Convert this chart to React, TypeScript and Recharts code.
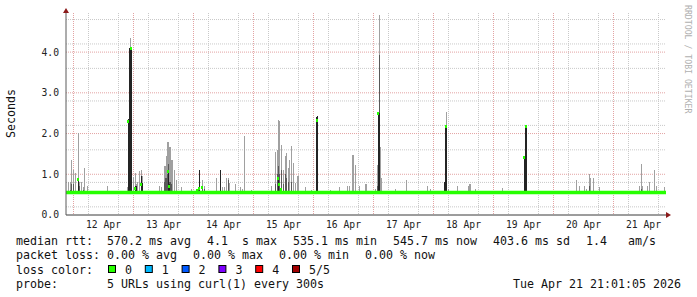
import React from "react";
import { ComposedChart, Bar, Line, Scatter, XAxis, YAxis, CartesianGrid } from "recharts";

// hours since 12 Apr 00:00, one column = 24 min
const smokeHours = [
  -2.0, -1.2, -0.8, 0.0, 0.8, 2.0, 2.4, 3.2, 4.0, 4.4, 5.6, 13.6, 21.6, 22.0, 22.4, 22.8, 23.2,
  24.0, 24.8, 25.2, 25.6, 26.4, 27.2, 27.6, 34.4, 35.2, 36.4, 36.8, 37.2, 37.6, 38.0, 38.4, 38.8,
  39.2, 39.6, 40.4, 41.2, 43.2, 47.2, 49.6, 50.0, 50.4, 51.6, 52.4, 57.2, 58.8, 59.6, 60.4, 61.2,
  62.0, 62.4, 64.8, 66.8, 67.6, 68.4, 71.2, 79.2, 80.8, 81.6, 82.0, 82.4, 83.2, 84.0, 84.8, 85.2,
  86.0, 86.4, 87.2, 88.0, 88.8, 89.6, 90.0, 92.8, 95.2, 97.2, 97.6, 102.8, 106.4, 109.6, 110.4,
  111.6, 112.0, 112.8, 114.4, 116.8, 117.2, 120.8, 121.6, 122.0, 122.4, 122.8, 123.2, 128.8,
  133.2, 141.6, 142.8, 148.4, 148.8, 149.2, 150.0, 153.6, 158.0, 158.4, 158.8, 160.8, 171.6,
  180.4, 180.8, 181.2, 201.2, 202.4, 204.4, 205.2, 206.4, 206.8, 208.0, 210.4, 226.4, 227.2,
  227.6, 229.6, 230.4, 232.4, 233.2, 236.4,
];
// outer smoke (slowest ping), seconds
const smokeHigh = [
  0.82, 0.82, 1.35, 1.1, 1.03, 2.01, 0.82, 0.82, 0.68, 1.15, 0.7, 0.7, 0.68, 2.35, 4.1, 4.35, 4.1,
  0.94, 1.03, 0.75, 0.82, 1.08, 1.1, 0.95, 0.7, 0.68, 1.2, 1.2, 1.45, 1.8, 1.8, 1.68, 1.68,
  1.35, 1.35, 1.1, 0.86, 0.68, 0.63, 0.65, 0.65, 1.1, 0.85, 0.7, 0.9, 1.1, 0.68, 0.68, 0.9,
  0.9, 0.78, 0.75, 0.68, 0.65, 1.94, 0.62, 0.72, 1.55, 1.6, 2.33, 2.3, 1.72, 1.1, 1.45, 1.52,
  1.15, 1.35, 1.69, 1.28, 0.78, 0.95, 0.95, 0.68, 0.62, 2.4, 2.43, 0.62, 0.68, 0.72, 0.72,
  1.47, 1.47, 1.23, 0.72, 0.75, 0.75, 0.63, 1.23, 2.51, 4.91, 1.68, 0.9, 0.65,
  0.85, 0.72, 0.65, 0.82, 2.17, 2.54, 0.65, 0.72, 0.72, 0.75, 0.75, 0.65, 0.66,
  1.4, 2.17, 2.17, 0.86, 0.72, 0.72, 0.65, 1.01, 0.9, 0.9, 0.68, 0.72, 1.25,
  0.72, 0.72, 0.82, 1.1, 0.72, 0.68,
];
// middle smoke band top (0 = none)
const smokeMid = [
  0, 0.62, 0.75, 0.75, 0, 0, 0.7, 0, 0.62, 0, 0, 0, 0, 0, 0, 0, 0,
  0, 0, 0, 0, 0, 0, 0, 0, 0, 0.8, 0.9, 0.9, 1.0, 1.25, 0.8, 0.8,
  0.75, 0, 0, 0, 0, 0, 0.65, 0.62, 0, 0.65, 0.65, 0, 0, 0, 0, 0,
  0.85, 0, 0, 0, 0, 0, 0, 0, 0.75, 1.0, 1.2, 1.0, 1.1, 0.75, 1.0, 0.9,
  0.8, 0, 0.8, 0, 0, 0, 0, 0, 0, 0, 0, 0, 0, 0, 0,
  0, 0, 0, 0, 0, 0, 0, 0.7, 0, 3.93, 0, 0, 0,
  0, 0, 0, 0, 0, 0, 0, 0, 0, 0, 0, 0, 0,
  0, 0, 0, 0, 0, 0, 0, 0.7, 0, 0, 0, 0, 0.64,
  0, 0, 0, 0, 0, 0,
];
// dark core of the smoke (0 = none)
const smokeCore = [
  0, 0, 0, 0, 0, 0.9, 0, 0, 0, 0, 0, 0, 0, 2.35, 4.1, 4.1, 4.08,
  0, 0.7, 0.7, 0, 0, 0.95, 0.78, 0, 0, 0, 0, 0, 0, 1.1, 0.75, 0,
  0, 0, 0, 0, 0, 0, 0, 0, 1.1, 0, 0, 0, 1.1, 0, 0, 0,
  0, 0, 0, 0, 0, 0, 0, 0, 0, 0, 0.9, 0, 0, 0, 0, 0,
  0, 0, 0, 0, 0, 0, 0, 0, 0, 2.4, 2.43, 0, 0, 0, 0,
  0, 0, 0, 0, 0, 0, 0, 0, 2.51, 2.51, 0, 0, 0,
  0, 0, 0, 0.82, 2.17, 2.17, 0, 0, 0, 0, 0, 0, 0,
  1.4, 2.17, 2.17, 0, 0, 0, 0, 0, 0, 0, 0, 0, 0,
  0, 0, 0, 0, 0, 0,
];
const SMOKE_LOW = 0.54;

const medianHours = [-3, 18, 45, 70, 93, 118, 140, 165, 190, 215, 237];
const medianValues = [0.552, 0.552, 0.551, 0.552, 0.551, 0.552, 0.552, 0.551, 0.552, 0.552, 0.551];

// median readings that left the baseline
const spikeHours = [2.0, 22.0, 23.2, 24.8, 27.2, 38.0, 38.4, 49.6, 50.4, 51.6, 82.0, 82.4, 83.2, 97.6, 122.0, 149.2, 180.4, 181.2];
const spikeValues = [0.86, 2.29, 4.08, 0.64, 0.76, 1.06, 0.69, 0.6, 0.66, 0.68, 0.9, 0.75, 0.62, 2.33, 2.5, 2.17, 1.4, 2.17];

const dayTicks = [12, 36, 60, 84, 108, 132, 156, 180, 204, 228];
const dayLabels = ["12 Apr", "13 Apr", "14 Apr", "15 Apr", "16 Apr", "17 Apr", "18 Apr", "19 Apr", "20 Apr", "21 Apr"];
const secondTicks = [0, 1, 2, 3, 4];

const rttItems = ["median rtt:  570.2 ms avg", "4.1  s max", "535.1 ms min", "545.7 ms now", "403.6 ms sd", "1.4   am/s"];
const lossItems = ["packet loss: 0.00 % avg", "0.00 % max", "0.00 % min", "0.00 % now"];
const lossLabels = ["0", "1", "2", "3", "4", "5/5"];
const lossColors = ["#26ff00", "#00b8ff", "#0059ff", "#7e00ff", "#ff0000", "#a10000"];

// grid positions
const majorX: number[] = [];
const minorX: number[] = [];
for (let h = 0; h <= 236; h += 6) (h % 24 === 0 ? majorX : minorX).push(h);
const majorY = [1, 2, 3, 4];
const minorY: number[] = [];
for (let i = 1; i <= 24; i++) if (i % 5 !== 0) minorY.push(i / 5);

const rows = smokeHours
  .map((t, i) => {
    const coreTop = smokeCore[i] > 0 ? smokeCore[i] : SMOKE_LOW;
    const midTop = Math.max(smokeMid[i], coreTop);
    return {
      t,
      base: SMOKE_LOW,
      core: coreTop - SMOKE_LOW,
      mid: midTop - coreTop,
      light: Math.max(smokeHigh[i] - midTop, 0),
    } as any;
  })
  .concat(medianHours.map((t, i) => ({ t, base: 0, core: 0, mid: 0, light: 0, median: medianValues[i] })))
  .sort((a, b) => a.t - b.t);

const spikes = spikeHours.map((t, i) => ({ t, v: spikeValues[i] }));

const MONO = "DejaVu Sans Mono, monospace";
const CH = 7; // legend char advance
const tickStyle = { fontSize: 9.7, fill: "#222", fontFamily: MONO };

// rrdtool draws smoke as whole pixel columns
const SmokeColumn = (p: any) => {
  if (!p.height || p.height <= 0 || p.fill === "none") return null;
  return (
    <rect x={Math.floor(p.x)} y={p.y} width={Math.max(1, Math.round(p.width))} height={p.height}
      fill={p.fill} shapeRendering="crispEdges" />
  );
};

const MedianMark = (props: any) => {
  const { cx, cy } = props;
  if (cx == null || cy == null) return null;
  return <rect x={Math.floor(cx) - 1} y={cy - 1.5} width={2} height={3} fill="#26ff00" shapeRendering="crispEdges" />;
};

// item start positions: rrdtool leaves 16px between legend items
const placeItems = (items: string[], x0: number) => {
  const xs: number[] = [];
  let x = x0;
  items.forEach((s) => {
    xs.push(x);
    x += s.length * CH + 16;
  });
  return xs;
};

export default function App() {
  const txt = { fontFamily: MONO, fontSize: 11.63, fill: "#111", whiteSpace: "pre" } as any;
  const rttX = placeItems(rttItems, 16);
  const lossX = placeItems(lossItems, 16);
  return (
    <div style={{ position: "absolute", left: 0, top: 0, width: 697, height: 297, background: "#fff" }}>
      <svg width={0} height={0} style={{ position: "absolute" }}>
        <defs>
          <marker id="axisArrow" viewBox="0 0 10 12" refX="0" refY="6" markerWidth="5" markerHeight="6"
            markerUnits="userSpaceOnUse" orient="auto-start-reverse">
            <path d="M0,0 L10,6 L0,12 z" fill="#8b1a1a" />
          </marker>
        </defs>
      </svg>
      <ComposedChart
        width={697}
        height={297}
        data={rows}
        margin={{ top: 13, right: 31, left: 16, bottom: 62 }}
        barSize={1}
        barGap={0}
        barCategoryGap={0}
        style={{ position: "absolute", left: 0, top: 0 }}
      >
        <CartesianGrid stroke="#c9c9c9" strokeDasharray="1 1" verticalValues={minorX} horizontalValues={minorY} />
        <CartesianGrid stroke="#e3a3a3" strokeDasharray="1 1" verticalValues={majorX} horizontalValues={majorY} />
        <XAxis
          dataKey="t"
          type="number"
          domain={[-3, 237]}
          allowDataOverflow
          ticks={dayTicks}
          tickFormatter={(v) => dayLabels[dayTicks.indexOf(v)] ?? ""}
          tick={tickStyle}
          tickLine={false}
          tickSize={0}
          tickMargin={6.5}
          height={20}
          axisLine={{ stroke: "#3a3a3a", markerEnd: "url(#axisArrow)" }}
        />
        <YAxis
          type="number"
          domain={[0, 4.96]}
          allowDataOverflow
          ticks={secondTicks}
          tickFormatter={(v) => Number(v).toFixed(1)}
          tick={tickStyle}
          tickLine={false}
          tickSize={0}
          tickMargin={7}
          width={50}
          axisLine={{ stroke: "#5a5a5a", markerStart: "url(#axisArrow)" }}
        />
        <Bar dataKey="base" stackId="smoke" fill="none" shape={SmokeColumn} isAnimationActive={false} />
        <Bar dataKey="core" stackId="smoke" fill="#242424" shape={SmokeColumn} isAnimationActive={false} />
        <Bar dataKey="mid" stackId="smoke" fill="#595959" shape={SmokeColumn} isAnimationActive={false} />
        <Bar dataKey="light" stackId="smoke" fill="#a0a0a0" shape={SmokeColumn} isAnimationActive={false} />
        <Line
          dataKey="median"
          type="linear"
          stroke="#26ff00"
          strokeWidth={3.4}
          dot={false}
          activeDot={false}
          connectNulls
          isAnimationActive={false}
        />
        <Scatter data={spikes} dataKey="v" shape={<MedianMark />} isAnimationActive={false} />
      </ComposedChart>

      <svg width={697} height={297} style={{ position: "absolute", left: 0, top: 0, pointerEvents: "none" }}>
        <text x={11} y={113.5} transform="rotate(-90 11 113.5)" textAnchor="middle" dominantBaseline="central" style={txt}>
          Seconds
        </text>
        <text x={688} y={5} transform="rotate(90 688 5)" dominantBaseline="central"
          style={{ fontFamily: MONO, fontSize: 8.2, fill: "#b0b0b0", whiteSpace: "pre" }}>
          RRDTOOL / TOBI OETIKER
        </text>

        {rttItems.map((s, i) => (
          <text key={s} x={rttX[i]} y={245} style={txt}>{s}</text>
        ))}
        {lossItems.map((s, i) => (
          <text key={s} x={lossX[i]} y={259.3} style={txt}>{s}</text>
        ))}

        <text x={16} y={273.5} style={txt}>loss color:</text>
        {lossLabels.map((l, i) => (
          <g key={l}>
            <rect x={108.5 + i * 36.8} y={265.5} width={7} height={7} fill={lossColors[i]} stroke="#000" strokeWidth={1} />
            <text x={125 + i * 36.8} y={273.5} style={txt}>{l}</text>
          </g>
        ))}

        <text x={16} y={287.7} style={txt}>probe:</text>
        <text x={107} y={287.7} style={txt}>5 URLs using curl(1) every 300s</text>
        <text x={513} y={287.7} style={txt}>Tue Apr 21 21:01:05 2026</text>
      </svg>
    </div>
  );
}
